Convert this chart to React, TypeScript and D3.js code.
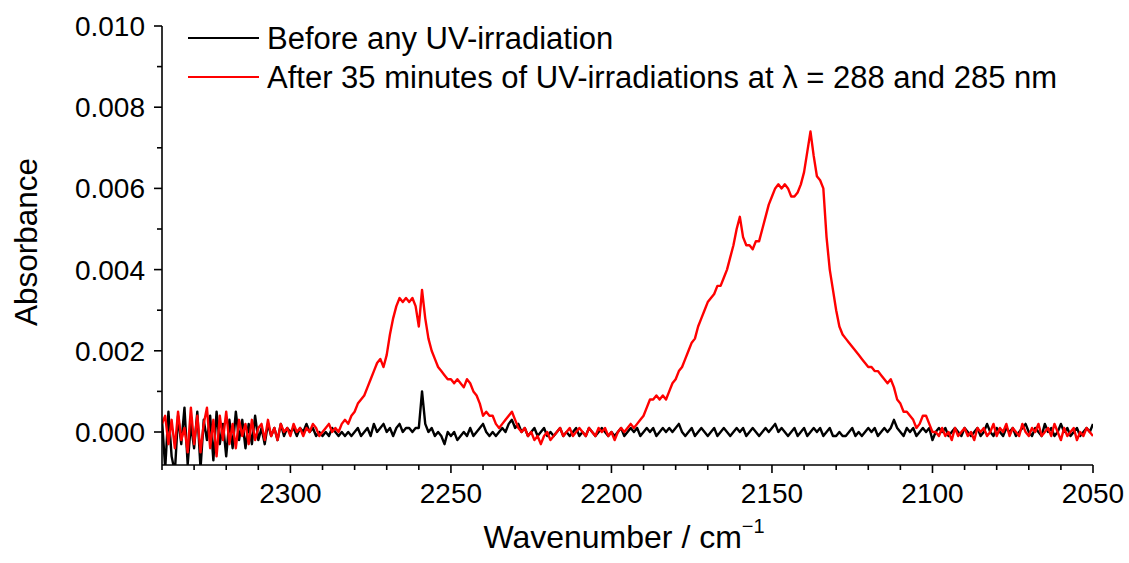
import React from "react";
import * as d3 from "d3";

// Wavenumber grid (cm^-1), 1 cm^-1 step from 2340 down to 2050
const wavenumbers: number[] = d3.range(2340, 2049, -1);

// Absorbance values in units of 1e-4, one per wavenumber above
const beforeUV: number[] = [
  3, -9, 5, -6, -10, 4, -3, 6, -8, 2, -4, 5, -9, 3, -2, 4, -7, 5, -3, 2,
  -6, 3, -4, 5, -2, 3, -4, 2, -3, 4, -2, 1, -3, 2, -1, 1, -2, 2, -1, 1,
  0, 1, -1, 1, 0, 2, 0, 1, -1, 0, -1, 0, -1, 1, 0, -1, 0, -1, 0, -1,
  0, 1, -1, 0, 1, -1, 2, 0, 1, 2, 0, 1, -1, 1, 2, 0, 1, 1, 0, 1,
  1, 10, 2, 0, 1, -1, 0, -1, -3, 0, -1, 0, -2, -1, 0, -1, 1, -1, 0, 1,
  2, 0, -1, 0, -1, 0, 1, 0, 2, 3, 1, 2, 0, 1, -1, 0, 1, -1, 0, 1,
  -1, 0, -1, 0, 1, -1, 0, -1, 0, 1, -1, 0, -1, 1, 0, -1, 0, 1, 0, -1,
  0, -1, 0, 1, -1, 0, 1, 0, 1, -1, 0, 1, 0, 1, -1, 0, 1, 0, 1, 0,
  1, 2, 0, -1, 0, 1, -1, 0, 1, 0, -1, 0, 1, -1, 0, 1, 0, -1, 0, 1,
  0, 1, -1, 0, 1, 0, -1, 0, 1, 0, 1, 2, 0, 1, 0, -1, 0, 1, -1, 0,
  1, -1, 0, 1, 0, 1, -1, 0, 1, -1, -1, 0, -1, -1, 0, 1, -1, 0, -1, 0,
  1, 0, 1, -1, 0, 1, 0, 1, 3, 1, 0, -1, 1, 0, 1, -1, 0, 1, 0, 1,
  -2, 0, 1, 0, 1, -1, 0, 1, 0, -1, 1, 0, -1, 0, 1, -1, 0, 2, 0, -1,
  1, 0, -1, 1, 0, 1, -1, 0, 1, 2, 0, -1, 1, 0, -1, 2, 0, 1, -1, 0,
  2, 0, 1, -1, 0, 1, -1, 0, 1, 0, 2,
];

const afterUV: number[] = [
  2, 4, -3, 3, -4, 5, -2, 1, -5, 6, -3, 4, -5, 2, 6, -4, 3, -6, 4, -2,
  5, -3, 2, -4, 3, -1, 2, -3, 3, -2, 1, 2, -2, 3, -1, 1, -2, 2, 0, 1,
  -1, 2, 0, 1, -1, 1, 0, 2, 1, -1, 0, 1, 2, 0, 1, 0, 2, 3, 2, 4,
  5, 7, 8, 9, 11, 13, 15, 17, 18, 16, 19, 24, 28, 31, 33, 32, 33, 32, 33, 31,
  26, 35, 28, 23, 20, 18, 16, 15, 14, 13, 13, 12, 13, 12, 11, 13, 12, 10, 9, 7,
  4, 5, 4, 4, 2, 1, 2, 3, 4, 5, 3, 1, 0, 1, -1, 0, -2, -1, -3, -1,
  0, -2, -1, 0, 1, -1, 0, 1, -1, 0, 1, 0, -1, 1, 0, -1, 1, 0, 1, -1,
  0, -2, 0, 1, 0, 1, 2, 1, 2, 3, 4, 6, 8, 8, 9, 8, 9, 8, 10, 12,
  13, 15, 16, 18, 20, 22, 23, 26, 28, 30, 32, 33, 34, 36, 36, 38, 40, 43, 46, 50,
  53, 48, 46, 46, 45, 47, 47, 50, 53, 56, 58, 60, 61, 60, 61, 60, 58, 58, 59, 61,
  64, 69, 74, 68, 63, 62, 60, 48, 40, 35, 30, 26, 24, 23, 22, 21, 20, 19, 18, 17,
  16, 16, 15, 15, 14, 13, 12, 13, 11, 8, 7, 5, 5, 4, 3, 1, 2, 4, 4, 2,
  0, 0, -1, 1, -1, 0, -2, 1, -1, 0, 1, -1, 0, -2, 1, 0, 1, -1, 0, 2,
  -1, 1, 0, 2, -1, 1, 0, -1, 2, 0, -1, 1, 0, 2, -1, 0, 1, -1, 2, 0,
  -2, 1, -1, 0, 1, -2, 0, -1, 1, 0, -1,
];

const yTicksMajor: number[] = [0, 0.002, 0.004, 0.006, 0.008, 0.01];
const yTicksMinor: number[] = [0.001, 0.003, 0.005, 0.007, 0.009];
const xTicksMajor: number[] = [2300, 2250, 2200, 2150, 2100, 2050];

const legendLabels: string[] = [
  "Before any UV-irradiation",
  "After 35 minutes of UV-irradiations at \u03bb = 288 and 285 nm",
];
const seriesColors: string[] = ["#000000", "#ff0000"];

const W = 1129;
const H = 563;
const left = 162;
const right = 1093;
const top = 26;
const bottom = 465;

export default function App() {
  const x = d3.scaleLinear().domain([2340, 2050]).range([left, right]);
  const y = d3.scaleLinear().domain([0, 0.01]).range([432, 26]);

  const line = d3
    .line<number>()
    .x((_, i) => x(wavenumbers[i]))
    .y((v) => y(v * 1e-4));

  const xMinor = d3.range(2340, 2049, -10).filter((v) => v % 50 !== 0);
  const font = "'Liberation Sans', Arial, sans-serif";

  return (
    <svg width={W} height={H} style={{ position: "absolute", left: 0, top: 0, background: "#fff" }}>
      <defs>
        <clipPath id="plot">
          <rect x={left} y={top} width={right - left} height={bottom - top} />
        </clipPath>
      </defs>
      <rect x={0} y={0} width={W} height={H} fill="#fff" />
      <g clipPath="url(#plot)" fill="none" strokeWidth={2.4} strokeLinejoin="round">
        <path d={line(beforeUV) || ""} stroke={seriesColors[0]} />
        <path d={line(afterUV) || ""} stroke={seriesColors[1]} />
      </g>
      {/* Y axis */}
      <line x1={left} x2={left} y1={top} y2={bottom} stroke="#000" strokeWidth={1.6} />
      {yTicksMajor.map((t) => (
        <g key={"ym" + t}>
          <line x1={left - 8} x2={left} y1={y(t)} y2={y(t)} stroke="#000" strokeWidth={1.6} />
          <text x={145} y={y(t) + 10} textAnchor="end" fontSize={28} fontFamily={font}>
            {d3.format(".3f")(t)}
          </text>
        </g>
      ))}
      {yTicksMinor.map((t) => (
        <line key={"yn" + t} x1={left - 5} x2={left} y1={y(t)} y2={y(t)} stroke="#000" strokeWidth={1.6} />
      ))}
      {/* X axis */}
      <line x1={left} x2={right} y1={bottom} y2={bottom} stroke="#000" strokeWidth={1.6} />
      {xTicksMajor.map((t) => (
        <g key={"xm" + t}>
          <line x1={x(t)} x2={x(t)} y1={bottom} y2={bottom + 8} stroke="#000" strokeWidth={1.6} />
          <text x={x(t)} y={503} textAnchor="middle" fontSize={28} fontFamily={font}>
            {t}
          </text>
        </g>
      ))}
      {xMinor.map((t) => (
        <line key={"xn" + t} x1={x(t)} x2={x(t)} y1={bottom} y2={bottom + 5} stroke="#000" strokeWidth={1.6} />
      ))}
      {/* Axis titles */}
      <text x={624} y={548} textAnchor="middle" fontSize={32} fontFamily={font}>
        Wavenumber / cm
        <tspan dy={-15} fontSize={20}>{"\u22121"}</tspan>
      </text>
      <text transform="translate(37,242) rotate(-90)" textAnchor="middle" fontSize={31.5} fontFamily={font}>
        Absorbance
      </text>
      {/* Legend */}
      {legendLabels.map((lab, i) => (
        <g key={lab}>
          <line x1={188} x2={259} y1={38 + i * 39} y2={38 + i * 39} stroke={seriesColors[i]} strokeWidth={2.2} />
          <text x={267} y={49 + i * 39} fontSize={31} fontFamily={font}>
            {lab}
          </text>
        </g>
      ))}
    </svg>
  );
}
